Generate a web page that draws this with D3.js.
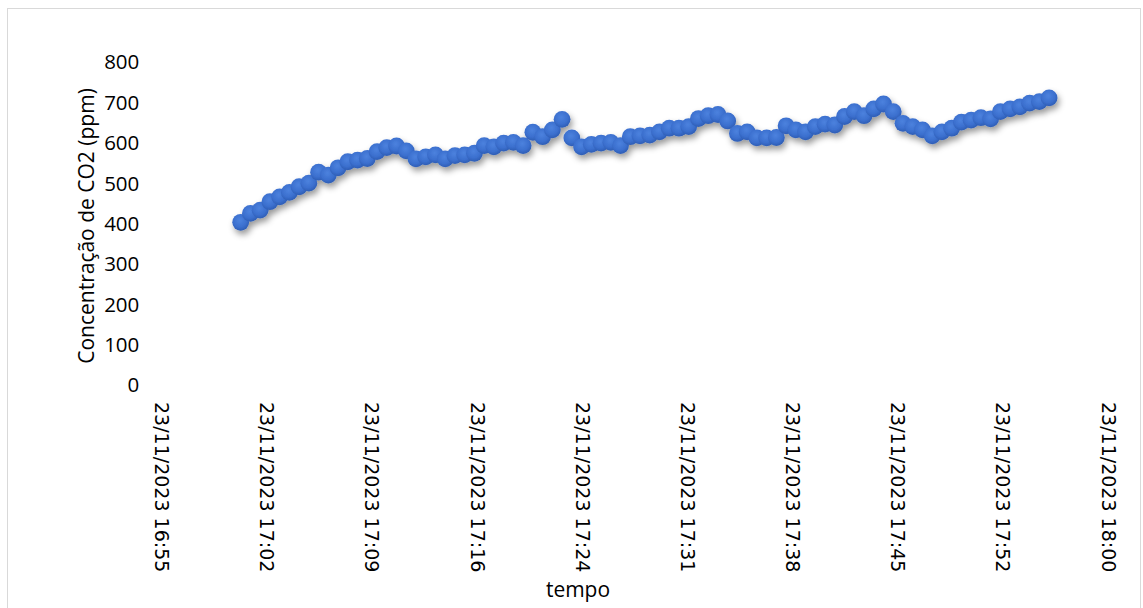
<!DOCTYPE html>
<html>
<head>
<meta charset="utf-8">
<script src="https://cdn.jsdelivr.net/npm/d3@7"></script>
<style>
  html, body { margin: 0; padding: 0; background: #fff; }
  svg { display: block; }
</style>
</head>
<body>
<svg id="chart" width="1143" height="608"></svg>
<script>
// ---- data ----
const yTicks = [0, 100, 200, 300, 400, 500, 600, 700, 800];
const xTickTimes = ["16:55:12", "17:02:24", "17:09:36", "17:16:48", "17:24:00",
                    "17:31:12", "17:38:24", "17:45:36", "17:52:48", "18:00:00"];
const xTickLabels = ["23/11/2023 16:55", "23/11/2023 17:02", "23/11/2023 17:09",
                     "23/11/2023 17:16", "23/11/2023 17:24", "23/11/2023 17:31",
                     "23/11/2023 17:38", "23/11/2023 17:45", "23/11/2023 17:52",
                     "23/11/2023 18:00"];
const startTime = "17:00:38";
const intervalSeconds = 40;
const co2 = [
  403, 425, 433, 454, 466, 477, 491, 500, 527, 520, 538, 553, 557, 561,
  578, 588, 592, 580, 560, 565, 570, 560, 568, 570, 574, 593, 590, 599,
  601, 593, 626, 615, 632, 658, 612, 590, 596, 599, 601, 593, 615, 617,
  619, 627, 636, 636, 640, 660, 667, 670, 654, 623, 627, 612, 612, 613,
  642, 632, 627, 640, 646, 644, 665, 677, 667, 684, 696, 677, 648, 640,
  632, 617, 627, 636, 651, 656, 662, 659, 677, 684, 689, 698, 702, 711
];
const yTitle = "Concentração de CO2 (ppm)";
const xTitle = "tempo";

// ---- helpers ----
function parseT(s) {
  const [h, m, sec] = s.split(":").map(Number);
  return new Date(2023, 10, 23, h, m, sec);
}
const t0 = parseT(startTime);
const points = co2.map((v, i) => ({ t: new Date(t0.getTime() + i * intervalSeconds * 1000), v }));
const tickDates = xTickTimes.map(parseT);

const svg = d3.select("#chart");

// chart border
svg.append("rect")
  .attr("x", 7.5).attr("y", 8.5)
  .attr("width", 1133).attr("height", 606)
  .attr("fill", "#fff").attr("stroke", "#d9d9d9").attr("stroke-width", 1);

// scales
const x = d3.scaleTime().domain([tickDates[0], tickDates[tickDates.length - 1]]).range([161.3, 1108]);
const y = d3.scaleLinear().domain([0, 800]).range([385, 62]);

// defs
const defs = svg.append("defs");
const grad = defs.append("radialGradient").attr("id", "dotGrad")
  .attr("cx", "45%").attr("cy", "38%").attr("r", "62%");
grad.append("stop").attr("offset", "0%").attr("stop-color", "#4c82de");
grad.append("stop").attr("offset", "65%").attr("stop-color", "#3b6fce");
grad.append("stop").attr("offset", "100%").attr("stop-color", "#2e5db4");
const flt = defs.append("filter").attr("id", "shadow")
  .attr("x", "-20%").attr("y", "-20%").attr("width", "140%").attr("height", "160%");
flt.append("feDropShadow").attr("dx", 2).attr("dy", 4).attr("stdDeviation", 3)
  .attr("flood-color", "#000").attr("flood-opacity", 0.4);

// y axis
const yAxis = svg.append("g")
  .attr("transform", `translate(${x.range()[0]},0)`)
  .call(d3.axisLeft(y).tickValues(yTicks).tickSize(0).tickPadding(22));
yAxis.select(".domain").remove();
yAxis.selectAll("text")
  .attr("font-family", "'Open Sans', 'Liberation Sans', sans-serif")
  .attr("font-size", 20.5).attr("fill", "#000").attr("dy", "0.34em");

// x axis
const xAxis = svg.append("g")
  .attr("transform", `translate(0,${y(0)})`)
  .call(d3.axisBottom(x).tickValues(tickDates).tickFormat((d, i) => xTickLabels[i]).tickSize(0));
xAxis.select(".domain").remove();
xAxis.selectAll("text")
  .attr("font-family", "'DejaVu Sans', sans-serif")
  .attr("font-size", 19).attr("fill", "#000")
  .attr("text-anchor", "start")
  .attr("transform", "rotate(90)")
  .attr("x", 17).attr("y", 0).attr("dy", "0.36em");

// points
svg.append("g").attr("filter", "url(#shadow)")
  .selectAll("circle").data(points).join("circle")
  .attr("cx", d => x(d.t)).attr("cy", d => y(d.v)).attr("r", 8.4)
  .attr("fill", "url(#dotGrad)");

// axis titles
svg.append("text")
  .attr("transform", "translate(94,226) rotate(-90)")
  .attr("text-anchor", "middle")
  .attr("font-family", "'Open Sans', 'Liberation Sans', sans-serif")
  .attr("font-size", 21).attr("fill", "#000")
  .text(yTitle);
svg.append("text")
  .attr("x", 578).attr("y", 597)
  .attr("text-anchor", "middle")
  .attr("font-family", "'Open Sans', 'Liberation Sans', sans-serif")
  .attr("font-size", 21).attr("fill", "#000")
  .text(xTitle);
</script>
</body>
</html>
